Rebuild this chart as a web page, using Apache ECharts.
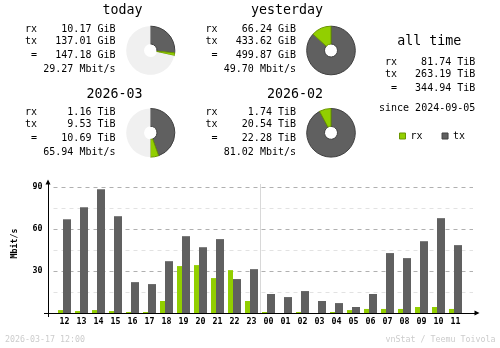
<!DOCTYPE html>
<html>
<head>
<meta charset="utf-8">
<style>
  html, body { margin: 0; padding: 0; background: #ffffff; }
  #chart { width: 500px; height: 348px; }
</style>
<script src="https://cdn.jsdelivr.net/npm/echarts@6/dist/echarts.min.js"></script>
</head>
<body>
<div id="chart"></div>
<script>
// Hourly average rates for the last 24 hours, Mbit/s
const hours = ['12', '13', '14', '15', '16', '17', '18', '19', '20', '21', '22', '23',
               '00', '01', '02', '03', '04', '05', '06', '07', '08', '09', '10', '11'];
const rxRate = [2.1, 1.4, 2.1, 1.4, 0.7, 0.7, 8.6, 33.6, 34.3, 25.0, 30.7, 8.6,
                0.7, 0.0, 0.7, 0.0, 0.7, 2.1, 2.9, 2.9, 2.9, 4.3, 4.3, 2.9];
const txRate = [67.1, 75.7, 88.6, 69.3, 22.1, 20.7, 37.1, 55.0, 47.1, 52.9, 24.3, 31.4,
                13.6, 11.4, 15.7, 8.6, 7.1, 4.3, 13.6, 42.9, 39.3, 51.4, 67.9, 48.6];
const rateTicks = [30, 60, 90];

// Period summaries
const periods   = ['today', 'yesterday', '2026-03', '2026-02'];
const rxText    = ['10.17 GiB', '66.24 GiB', '1.16 TiB', '1.74 TiB'];
const txText    = ['137.01 GiB', '433.62 GiB', '9.53 TiB', '20.54 TiB'];
const totalText = ['147.18 GiB', '499.87 GiB', '10.69 TiB', '22.28 TiB'];
const rateText  = ['29.27 Mbit/s', '49.70 Mbit/s', '65.94 Mbit/s', '81.02 Mbit/s'];
const rxAmount  = [10.17, 66.24, 1.16, 1.74];
const txAmount  = [137.01, 433.62, 9.53, 20.54];
const periodFill = [0.285, 1, 0.5, 1];   // share of the ring filled for the period

// All time
const allTimeRx = '81.74 TiB';
const allTimeTx = '263.19 TiB';
const allTimeTotal = '344.94 TiB';
const sinceDate = '2024-09-05';

const stamp = '2026-03-17 12:00';
const credit = 'vnStat / Teemu Toivola';

// ---- styling ----
const MONO = '"DejaVu Sans Mono", monospace';
const RX = '#92cf00', RX_EDGE = '#6b9600';
const TX = '#606060', TX_EDGE = '#404040';
const RING_BG = '#f0f0f0';

const blockX = [25, 205.5, 25, 205.5];
const blockY = [0, 0, 83.2, 83.2];
const pieY = [50.5, 50.5, 132.8, 132.8];

// plot area geometry
const plotBottom = 313;     // baseline of the hourly plot
const scaleTop = 187.3;     // where the 90 Mbit/s line sits
const sepTop = 184;         // top of the day separator
const barMax = 90 * (plotBottom - sepTop) / (plotBottom - scaleTop);
const dayBreak = hours.indexOf('00');

function txt(text, x, y, size, align, extra) {
  return Object.assign({
    type: 'text', x: x, y: y, silent: true,
    style: { text: text, font: size + 'px ' + MONO, fill: '#000000', align: align, verticalAlign: 'middle' }
  }, extra || {});
}

const elements = [];
periods.forEach(function (p, i) {
  const bx = blockX[i], by = blockY[i];
  elements.push(txt(p, bx + 117.5, by + 11, 13.3, 'right'));
  elements.push(txt('rx', bx, by + 29.5, 10, 'left'));
  elements.push(txt('tx', bx, by + 41.5, 10, 'left'));
  elements.push(txt(' =', bx, by + 55.3, 10, 'left'));
  elements.push(txt(rxText[i], bx + 90.5, by + 29.5, 10, 'right'));
  elements.push(txt(txText[i], bx + 90.5, by + 41.5, 10, 'right'));
  elements.push(txt(totalText[i], bx + 90.5, by + 55.3, 10, 'right'));
  elements.push(txt(rateText[i], bx + 90.5, by + 69.7, 10, 'right'));
});
elements.push(txt('all time', 397.3, 41.1, 13.3, 'left'));
elements.push(txt('rx', 385, 62.7, 10, 'left'));
elements.push(txt('tx', 385, 74.3, 10, 'left'));
elements.push(txt(' =', 385, 88.7, 10, 'left'));
elements.push(txt(allTimeRx, 475.3, 62.7, 10, 'right'));
elements.push(txt(allTimeTx, 475.3, 74.3, 10, 'right'));
elements.push(txt(allTimeTotal, 475.3, 88.7, 10, 'right'));
elements.push(txt('since ' + sinceDate, 379, 108.7, 10, 'left'));
const unitEl = txt('Mbit/s', 15, 243.5, 8.3, 'center', { rotation: Math.PI / 2 });
unitEl.style.font = 'bold 8.3px ' + MONO;
elements.push(unitEl);
const stampEl = txt(stamp, 5, 340, 8.3, 'left');
stampEl.style.fill = '#cccccc';
elements.push(stampEl);
const creditEl = txt(credit, 495.5, 340, 8.3, 'right');
creditEl.style.fill = '#cccccc';
elements.push(creditEl);

function ring(i) {
  const total = rxAmount[i] + txAmount[i];
  const data = [
    { name: 'tx', value: txAmount[i], itemStyle: { color: TX, borderColor: TX_EDGE, borderWidth: 1 } },
    { name: 'rx', value: rxAmount[i], itemStyle: { color: RX, borderColor: RX_EDGE, borderWidth: 1 } }
  ];
  if (periodFill[i] < 1) {
    data.push({ name: 'remaining', value: total * (1 / periodFill[i] - 1),
                itemStyle: { color: RING_BG, borderWidth: 0 } });
  }
  return {
    type: 'pie', center: [blockX[i] + 125.5, pieY[i]], radius: [6.5, 24.3],
    startAngle: 90, clockwise: true, silent: true, avoidLabelOverlap: false,
    label: { show: false }, labelLine: { show: false }, emphasis: { disabled: true },
    data: data
  };
}

const tickFont = { fontFamily: MONO, fontSize: 8.3, fontWeight: 'bold', color: '#000000' };
const hidden = { show: false };

const option = {
  animation: false,
  backgroundColor: '#ffffff',
  graphic: { elements: elements },
  legend: {
    data: [
      { name: 'rx', itemStyle: { color: RX, borderColor: RX_EDGE, borderWidth: 1 } },
      { name: 'tx', itemStyle: { color: TX, borderColor: TX_EDGE, borderWidth: 1 } }
    ],
    left: 399, top: 131, padding: 0, itemWidth: 6, itemHeight: 6, itemGap: 19,
    icon: 'rect', selectedMode: false,
    textStyle: { fontFamily: MONO, fontSize: 10, color: '#000000' }
  },
  grid: [
    { left: 48, right: 23, top: 182, bottom: 348 - plotBottom },          // axis frame
    { left: 53.5, right: 27, top: scaleTop, bottom: 348 - plotBottom },   // rate scale
    { left: 56, right: 36, top: sepTop, bottom: 348 - plotBottom },       // hourly bars
    { left: 56, right: 36, top: sepTop, bottom: 348 - plotBottom }        // day separator
  ],
  xAxis: [
    {
      gridIndex: 0, type: 'value', min: 0, max: 1, z: 10,
      axisLine: { show: true, lineStyle: { color: '#000000', width: 1 }, symbol: ['none', 'triangle'], symbolSize: [5, 5] },
      axisTick: { show: true, customValues: [0], length: 4, lineStyle: { color: '#000000' } },
      axisLabel: hidden, splitLine: hidden
    },
    { gridIndex: 1, type: 'value', min: 0, max: 1, show: false },
    {
      gridIndex: 2, type: 'category', data: hours,
      axisLine: hidden, axisTick: hidden, splitLine: hidden,
      axisLabel: Object.assign({ margin: 4.5, interval: 0 }, tickFont)
    },
    {
      gridIndex: 3, type: 'value', min: 0, max: hours.length, interval: dayBreak,
      axisLine: hidden, axisTick: hidden, axisLabel: hidden,
      splitLine: { show: true, showMinLine: false, showMaxLine: false, lineStyle: { color: '#d8d8d8', width: 1 } }
    }
  ],
  yAxis: [
    {
      gridIndex: 0, type: 'value', min: 0, max: 1, z: 10,
      axisLine: { show: true, lineStyle: { color: '#000000', width: 1 }, symbol: ['none', 'triangle'], symbolSize: [5, 5] },
      axisTick: { show: true, customValues: [0], length: 4, lineStyle: { color: '#000000' } },
      axisLabel: hidden, splitLine: hidden
    },
    {
      gridIndex: 1, type: 'value', min: 0, max: 90, interval: 15,
      axisLine: hidden, axisTick: hidden,
      axisLabel: Object.assign({ margin: 11, formatter: function (v) { return rateTicks.indexOf(v) >= 0 ? String(v) : ''; } }, tickFont),
      splitLine: { show: true, lineStyle: { color: ['#b0b0b0', '#e2e2e2'], type: [4, 4], width: 1 } }
    },
    { gridIndex: 2, type: 'value', min: 0, max: barMax, show: false },
    { gridIndex: 3, type: 'value', min: 0, max: 1, show: false }
  ],
  series: [
    { name: 'rx', type: 'bar', xAxisIndex: 2, yAxisIndex: 2, data: rxRate, barWidth: 5, barGap: '0%',
      itemStyle: { color: RX }, silent: true },
    { name: 'tx', type: 'bar', xAxisIndex: 2, yAxisIndex: 2, data: txRate, barWidth: 8, barGap: '0%',
      itemStyle: { color: TX }, silent: true },
    ring(0), ring(1), ring(2), ring(3)
  ]
};

const chart = echarts.init(document.getElementById('chart'), null, { renderer: 'canvas' });
chart.setOption(option);
</script>
</body>
</html>
